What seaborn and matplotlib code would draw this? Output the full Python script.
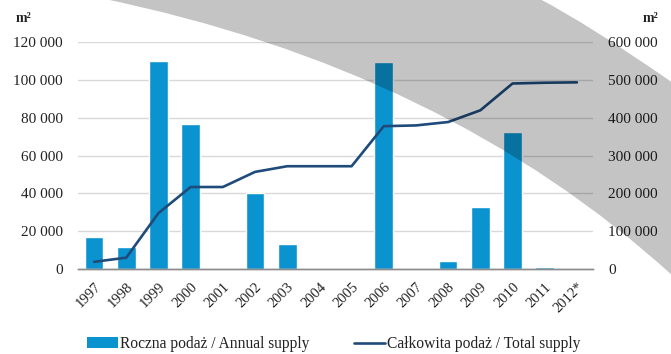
import matplotlib
matplotlib.use("Agg")
import matplotlib.pyplot as plt
import seaborn as sns
import pandas as pd
import numpy as np
from matplotlib.path import Path
from matplotlib.patches import PathPatch, Patch
from matplotlib.lines import Line2D
from matplotlib.ticker import FuncFormatter, MultipleLocator

# Office space supply, m²
years = ["1997", "1998", "1999", "2000", "2001", "2002", "2003", "2004",
         "2005", "2006", "2007", "2008", "2009", "2010", "2011", "2012*"]
annual_supply = [17000, 11500, 110000, 77000, 0, 40000, 13000, 0,
                 0, 109500, 0, 4400, 33000, 72500, 1200, 0]
total_supply = [19000, 30000, 148000, 217000, 217000, 257000, 272000, 272000,
                272000, 378000, 380000, 389000, 420000, 491000, 493000, 494000]

label_annual = "Roczna podaż / Annual supply"
label_total = "Całkowita podaż / Total supply"
unit = "m²"

df = pd.DataFrame({"year": years, "annual": annual_supply,
                   "total": total_supply, "pos": np.arange(len(years))})

sns.set_theme(style="white")
plt.rcParams["font.family"] = ["Liberation Serif", "DejaVu Serif"]

BAR = "#0a93cf"
LINE = "#1f4b7a"
TXT = "#222222"
W, H = 671, 354

fig = plt.figure(figsize=(W / 100, H / 100), dpi=100)
ax = fig.add_axes([78 / W, 1 - 269 / H, (593 - 78) / W, (269 - 42.3) / H])

sns.barplot(data=df, x="year", y="annual", color=BAR, saturation=1,
            width=0.58, ax=ax, zorder=2)
ax2 = ax.twinx()
sns.lineplot(data=df, x="pos", y="total", color=LINE, linewidth=1.9,
             ax=ax2, legend=False, zorder=3)

ax.set_xlim(-0.5, len(years) - 0.5)
ax.set_ylim(0, 120000)
ax2.set_ylim(0, 600000)
ax.yaxis.set_major_locator(MultipleLocator(20000))
ax2.yaxis.set_major_locator(MultipleLocator(100000))

fmt = FuncFormatter(lambda v, p: f"{int(v):,}".replace(",", " "))
ax.yaxis.set_major_formatter(fmt)
ax2.yaxis.set_major_formatter(fmt)

ax.grid(axis="y", color="#d9d9d9", linewidth=1.0, zorder=0)
ax.set_axisbelow(True)
for a in (ax, ax2):
    a.set_xlabel("")
    a.set_ylabel("")
    for s in ("top", "left", "right"):
        a.spines[s].set_visible(False)
    a.spines["bottom"].set_color("#8c8c8c")
    a.spines["bottom"].set_linewidth(1.0)

ax.tick_params(axis="y", length=0, pad=11, labelsize=11, labelcolor=TXT)
ax2.tick_params(axis="y", length=0, pad=11, labelsize=11, labelcolor=TXT)
ax.tick_params(axis="x", length=0, pad=8, labelsize=10.5, labelcolor=TXT)
ax.set_xticks(df["pos"])
ax.set_xticklabels(years, rotation=45, ha="right", va="top",
                   rotation_mode="anchor")

fig.text(16 / W, 1 - 18 / H, unit, fontsize=10, fontweight="bold",
         color=TXT, va="center", ha="left")
fig.text(643 / W, 1 - 18 / H, unit, fontsize=10, fontweight="bold",
         color=TXT, va="center", ha="left")

handles = [Patch(facecolor=BAR, edgecolor="none"),
           Line2D([0], [0], color=LINE, linewidth=1.9)]
fig.legend(handles, [label_annual, label_total], ncol=2, loc="center",
           bbox_to_anchor=(0.497, 1 - 344 / H), frameon=False, fontsize=11.2,
           handlelength=2.0, handletextpad=0.12, columnspacing=2.9,
           labelcolor=TXT, borderpad=0.1)

# translucent grey sweep across the upper right
def fp(x, y):
    return (x / W, 1 - y / H)

verts = [fp(100, -2), fp(445.6, 69), fp(673, 276),
         fp(673, 83), fp(588.5, 24.25), fp(538, -2), fp(100, -2)]
codes = [Path.MOVETO, Path.CURVE3, Path.CURVE3,
         Path.LINETO, Path.CURVE3, Path.CURVE3, Path.CLOSEPOLY]
band = PathPatch(Path(verts, codes), transform=fig.transFigure,
                 facecolor="black", edgecolor="none", alpha=0.23, zorder=5)
fig.patches.append(band)

fig.savefig("out.png", dpi=100)
